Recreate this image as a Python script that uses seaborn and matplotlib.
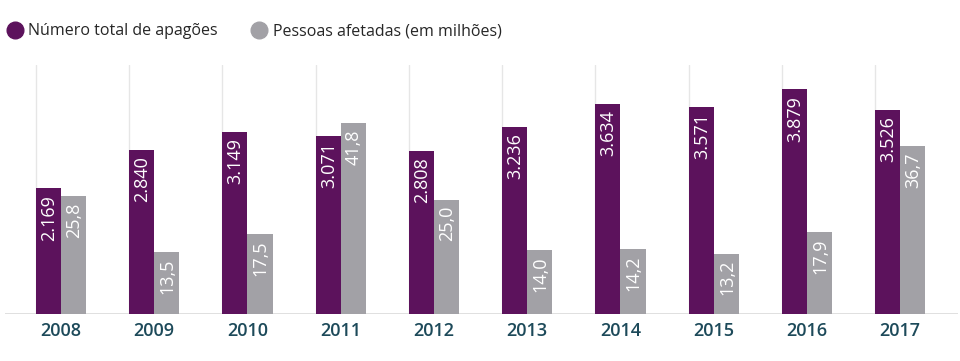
import matplotlib
matplotlib.use("Agg")
import matplotlib.pyplot as plt
import seaborn as sns
import pandas as pd
import numpy as np
from matplotlib.lines import Line2D

anos = ["2008", "2009", "2010", "2011", "2012", "2013", "2014", "2015", "2016", "2017"]
apagoes = [2169, 2840, 3149, 3071, 2808, 3236, 3634, 3571, 3879, 3526]
pessoas = [25.8, 13.5, 17.5, 41.8, 25.0, 14.0, 14.2, 13.2, 17.9, 36.7]
series = ["Número total de apagões", "Pessoas afetadas (em milhões)"]
cores = ["#5c125c", "#a2a1a6"]

sns.set_theme(style="white")
plt.rcParams["font.family"] = ["Open Sans", "DejaVu Sans"]

df = pd.DataFrame({
    "ano": anos * 2,
    "serie": [series[0]] * len(anos) + [series[1]] * len(anos),
    "valor": apagoes + pessoas,
})
df["v_a"] = np.where(df["serie"] == series[0], df["valor"], np.nan)
df["v_p"] = np.where(df["serie"] == series[1], df["valor"], np.nan)

W, H = 960, 361
fig = plt.figure(figsize=(W / 100, H / 100), dpi=100)
ax = fig.add_axes([5 / W, 47 / H, 953 / W, 249 / H])
ax2 = ax.twinx()

pal = dict(zip(series, cores))
width = 0.54
sns.barplot(data=df, x="ano", y="v_a", hue="serie", hue_order=series, palette=pal,
            order=anos, width=width, gap=0, dodge=True, ax=ax, legend=False,
            errorbar=None, saturation=1, linewidth=0)
sns.barplot(data=df, x="ano", y="v_p", hue="serie", hue_order=series, palette=pal,
            order=anos, width=width, gap=0, dodge=True, ax=ax2, legend=False,
            errorbar=None, saturation=1, linewidth=0)

ax.set_ylim(0, 4300)
ax2.set_ylim(0, 54.5)
ax.set_xlim(-0.6, 9.62)

def fmt_a(v):
    return f"{int(v):,}".replace(",", ".")

def fmt_p(v):
    return f"{v:.1f}".replace(".", ",")

for axis, fmt in ((ax, fmt_a), (ax2, fmt_p)):
    for p in axis.patches:
        h = p.get_height()
        if h is None or np.isnan(h) or h == 0:
            continue
        axis.annotate(fmt(h), (p.get_x() + p.get_width() / 2, h),
                      xytext=(0.5, -4.5), textcoords="offset points",
                      rotation=90, ha="center", va="top", color="white",
                      fontsize=13)

# vertical grid lines at the left edge of each group
for i in range(len(anos)):
    ax.axvline(i - width / 2, color="#e6e6e6", lw=1, zorder=0)

for a in (ax, ax2):
    for s in a.spines.values():
        s.set_visible(False)
    a.set_ylabel("")
    a.set_yticks([])
ax.set_xlabel("")
ax.axhline(0, color="#dadada", lw=1.2, zorder=0.5)
ax.tick_params(axis="x", length=0, pad=6)
for t in ax.get_xticklabels():
    t.set_color("#1d4a5a")
    t.set_fontsize(13)
    t.set_fontweight("semibold")

handles = [Line2D([], [], marker="o", ls="", markersize=12, color=c) for c in cores]
fig.legend(handles, series, loc="upper left", bbox_to_anchor=(-0.008, 0.975), ncol=2,
           frameon=False, fontsize=11.5, handletextpad=0.35, columnspacing=2.1,
           handlelength=1.0)

fig.savefig("out.png", dpi=100)
